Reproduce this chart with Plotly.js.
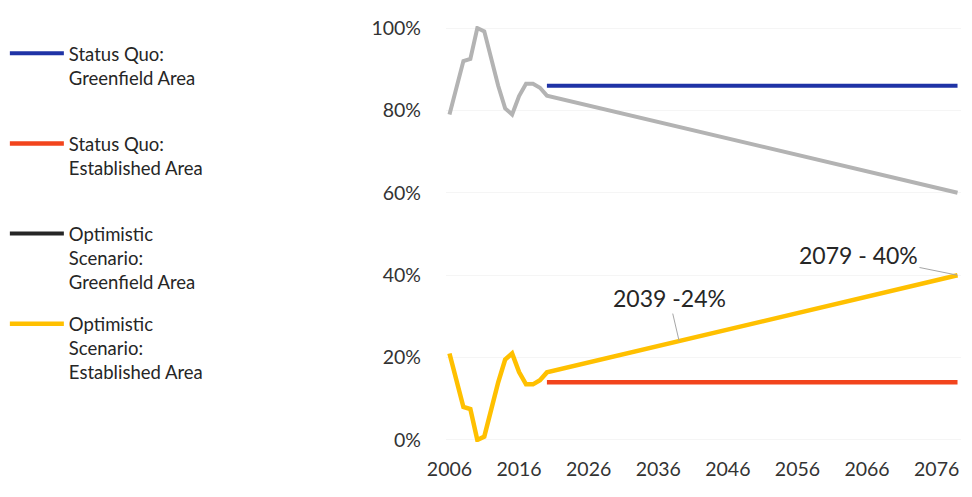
<!DOCTYPE html>
<html>
<head>
<meta charset="utf-8">
<script src="https://cdn.plot.ly/plotly-3.0.1.min.js"></script>
<style>html,body{margin:0;padding:0;background:#fff;}#chart{width:972px;height:497px;}</style>
</head>
<body>
<div id="chart"></div>
<script>
// Historical years (shared by both optimistic series)
const histYears = [2006, 2007, 2008, 2009, 2010, 2011, 2012, 2013, 2014, 2015, 2016, 2017, 2018, 2019];
const histGreenfield = [79, 85.5, 92, 92.5, 100, 99.2, 92.5, 86, 80.5, 79, 83.5, 86.5, 86.5, 85.5];
const histEstablished = [21, 14.5, 8, 7.5, 0, 0.8, 7.5, 14, 19.5, 21, 16.5, 13.5, 13.5, 14.5];

// Projection points
const projYears = [2020, 2039, 2079];
const optGreenfieldProj = [83.6, 76, 60];
const optEstablishedProj = [16.4, 24, 40];

const sqYears = [2020, 2079];
const sqGreenfield = [86, 86];
const sqEstablished = [14, 14];

const xTicks = [2006, 2016, 2026, 2036, 2046, 2056, 2066, 2076];
const yTicks = [0, 20, 40, 60, 80, 100];
const yTickLabels = ['0%', '20%', '40%', '60%', '80%', '100%'];

const names = {
  sqG: "Status Quo:<br>Greenfield Area<br> ",
  sqE: "Status Quo:<br>Established Area<br> ",
  opG: "Optimistic<br>Scenario:<br>Greenfield Area",
  opE: "Optimistic<br>Scenario:<br>Established Area"
};

const optYearsAll = histYears.concat(projYears);

const traces = [
  {x: optYearsAll, y: histGreenfield.concat(optGreenfieldProj), mode: 'lines',
   line: {color: '#b3b3b3', width: 4}, showlegend: false, hoverinfo: 'skip'},
  {x: optYearsAll, y: histEstablished.concat(optEstablishedProj), mode: 'lines', name: names.opE,
   line: {color: '#ffc000', width: 4.5}, legendrank: 4, legendgroup: 'd'},
  {x: sqYears, y: sqGreenfield, mode: 'lines', name: names.sqG,
   line: {color: '#1f33a6', width: 4}, legendrank: 1, legendgroup: 'a'},
  {x: sqYears, y: sqEstablished, mode: 'lines', name: names.sqE,
   line: {color: '#f2441d', width: 4.5}, legendrank: 2, legendgroup: 'b'},
  {x: [null], y: [null], mode: 'lines', name: names.opG,
   line: {color: '#262626', width: 4}, legendrank: 3, legendgroup: 'c'}
];

const layout = {
  width: 972, height: 497,
  paper_bgcolor: '#ffffff', plot_bgcolor: '#ffffff',
  font: {family: 'Lato, "Open Sans", sans-serif', color: '#333333'},
  margin: {l: 445.5, r: 10.5, t: 26, b: 55},
  xaxis: {range: [2005.5, 2079.5], tickvals: xTicks, ticktext: xTicks.map(String),
          showgrid: false, zeroline: false, showline: false, ticks: '',
          tickfont: {size: 19.5, color: '#333333'}, ticklabelstandoff: 13},
  yaxis: {range: [-0.5, 100.5], tickvals: yTicks, ticktext: yTickLabels,
          showgrid: true, gridcolor: '#f5f5f5', zeroline: false, showline: false, ticks: '',
          tickfont: {size: 19.5, color: '#333333'}, ticklabelstandoff: 24},
  showlegend: true,
  legend: {xref: 'container', yref: 'container', x: 0.005, y: 0.93, xanchor: 'left', yanchor: 'top',
           valign: 'top', tracegroupgap: 15, itemwidth: 54, maxheight: 600,
           font: {size: 18.5, color: '#262626'}, bgcolor: 'rgba(0,0,0,0)', traceorder: 'grouped'},
  annotations: [
    {x: 2039, y: 24, xref: 'x', yref: 'y', text: '2039 -24%', showarrow: true,
     arrowhead: 0, arrowwidth: 1, arrowcolor: '#a6a6a6', ax: -10, ay: -43,
     font: {size: 23, color: '#262626'}},
    {x: 2079, y: 40, xref: 'x', yref: 'y', text: '2079 - 40%', showarrow: true,
     arrowhead: 0, arrowwidth: 1, arrowcolor: '#a6a6a6', ax: -99, ay: -20,
     font: {size: 23, color: '#262626'}}
  ]
};

Plotly.newPlot('chart', traces, layout, {displayModeBar: false, staticPlot: true});
</script>
</body>
</html>
